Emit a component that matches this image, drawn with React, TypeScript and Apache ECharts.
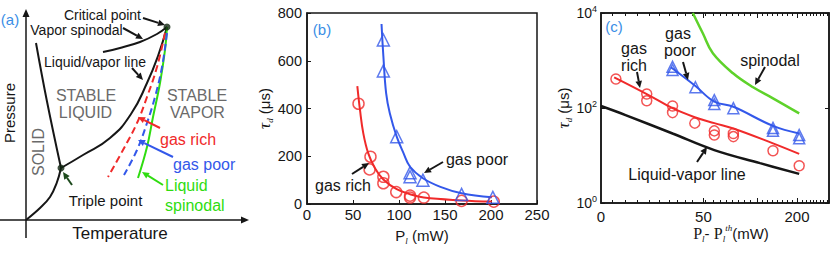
import React, { useEffect, useRef } from 'react';
import * as echarts from 'echarts';

// ---------- Panel (a): schematic phase diagram (temperature, pressure; arbitrary units) ----------
const solidLiquidT = [10, 20.7, 35];
const solidLiquidP = [177, 120, 52];
const solidVaporT = [0, 14, 24, 30.7, 35];
const solidVaporP = [0, 12, 23, 37, 52];
const liquidVaporT = [35, 57, 84, 105, 121, 132, 141];
const liquidVaporP = [52, 65, 82, 106, 137, 164, 193];
const vaporSpinodalT = [77, 94, 114, 131, 141];
const vaporSpinodalP = [168, 172, 178, 186, 193];
const liquidSpinodalT = [141, 139, 134, 127, 121, 112];
const liquidSpinodalP = [193, 170, 137, 103, 73, 42];
const gasRichLineT = [139, 131, 121, 111, 97, 82];
const gasRichLineP = [187, 153, 123, 97, 70, 43];
const gasPoorLineT = [141, 136, 129, 121, 111, 98];
const gasPoorLineP = [187, 153, 123, 97, 70, 45];
const specialPointT = [141, 35]; // critical point, triple point
const specialPointP = [193, 52];

// ---------- Panel (b): tau_d vs P_l ----------
const bRichX = [56, 69, 68, 83, 83, 97, 112, 112, 127, 168, 203];
const bRichY = [420, 198, 145, 114, 87, 50, 35, 27, 27, 13, 10];
const bPoorX = [83, 83, 97.5, 112, 112, 126, 168, 202];
const bPoorY = [687, 557, 282, 131, 114, 100, 40, 28];
const bRichFitX = [54.7, 57.6, 61.2, 66.6, 73.9, 83, 97.5, 112, 127, 168, 201];
const bRichFitY = [494, 394, 296, 212, 150, 103, 62, 41, 27, 15, 10];
const bPoorFitX = [81, 83, 86, 90, 97.5, 105, 112, 126, 145, 168, 201];
const bPoorFitY = [754, 620, 464, 380, 282, 212, 156, 108, 72, 45, 28];
const bXTicks = [0, 50, 100, 150, 200, 250];
const bYTicks = [0, 200, 400, 600, 800];

// ---------- Panel (c): tau_d vs P_l - P_l^th ----------
const cRichX = [4, 15, 15, 28, 28, 43, 60, 60, 81, 81, 144, 206];
const cRichY = [408, 197, 142, 110, 80, 48, 33, 27, 29, 25, 12.6, 6.1];
const cPoorX = [28, 28, 43.5, 60, 60, 81, 144, 144, 206, 206];
const cPoorY = [740, 631, 273, 147, 121, 99, 38, 33, 27, 23];
const cRichFitX = [3.5, 15, 28, 43, 60, 81, 144, 206];
const cRichFitY = [443, 197, 99, 64, 48, 37, 18, 10.8];
const cPoorFitX = [27, 43.5, 60, 81, 144, 206];
const cPoorFitY = [719, 290, 136, 106, 42, 29];
const cLiqVapX = [0, 7, 28, 60, 120, 206];
const cLiqVapY = [110, 71, 29, 13, 6.9, 4.1];
const cSpinX = [41.5, 49.5, 58.6, 80.6, 108.6, 144, 206];
const cSpinY = [10000, 3740, 1418, 538, 273, 160, 77];
const cXLabels = [0, 50, 200];
const cXMajorTicks = [50, 115, 200];
const cXMinorTicks = [3, 7, 11, 16, 21, 26, 31, 36, 41, 52, 59, 66, 73, 80, 87, 95, 104, 123, 132, 142, 152, 163, 175, 187, 214, 226, 238, 248, 260, 272, 284, 297];
const cYTickExponents = [0, 2, 4];

const FONT = '"Liberation Sans", Arial, sans-serif';
const SERIF = '"Liberation Serif", "Times New Roman", serif';
const RED = '#f02a2a';
const BLUE = '#3358ea';
const GREEN = '#2fdc10';
const CGREEN = '#5ed22a';
const PANEL_BLUE = '#3a8ee6';
const INK = '#161616';

const X_OFFSET = 20;
const tx = (x: number) => Math.log10(x + X_OFFSET);
const ty = (y: number) => Math.log10(y);
const U0 = tx(0);
const UMAX = U0 + 228 / 188.2;

const zip = (xs: number[], ys: number[]) => xs.map((x, i) => [x, ys[i]]);

function arrow(x1: number, y1: number, x2: number, y2: number, color: string) {
  const a = Math.atan2(y2 - y1, x2 - x1);
  const L = 7, W = 3.3;
  const bx = x2 - L * Math.cos(a), by = y2 - L * Math.sin(a);
  const px = -Math.sin(a), py = Math.cos(a);
  return [
    { type: 'line', z: 100, shape: { x1, y1, x2: bx, y2: by }, style: { stroke: color, lineWidth: 2 } },
    { type: 'polygon', z: 100, shape: { points: [[x2, y2], [bx + W * px, by + W * py], [bx - W * px, by - W * py]] }, style: { fill: color } },
  ];
}

function label(text: string, x: number, y: number, color = INK, size = 14, align = 'center', rotation = 0) {
  return {
    type: 'text', z: 100, x, y, rotation,
    style: { text, fill: color, font: `${size}px ${FONT}`, align, verticalAlign: 'middle' },
  };
}

const nameRich = {
  a: { fontSize: 15, fontFamily: FONT, color: INK, lineHeight: 20, verticalAlign: 'middle' },
  p: { fontSize: 16, fontFamily: SERIF, color: INK, lineHeight: 20, verticalAlign: 'middle' },
  t: { fontSize: 17, fontFamily: SERIF, fontStyle: 'italic', color: INK, lineHeight: 20, verticalAlign: 'middle' },
  s: { fontSize: 9, fontFamily: SERIF, fontStyle: 'italic', color: INK, lineHeight: 9, verticalAlign: 'bottom' },
  u: { fontSize: 9, fontFamily: SERIF, fontStyle: 'italic', color: INK, lineHeight: 9, verticalAlign: 'top' },
};

const axisLine = { show: true, lineStyle: { color: INK, width: 1.5 } };

export default function App() {
  const ref = useRef<HTMLDivElement>(null);
  useEffect(() => {
    if (!ref.current) return;
    const chart = echarts.init(ref.current, undefined, { renderer: 'svg' });

    const line = (xi: number, data: number[][], color: string, extra: any = {}) => ({
      type: 'line', xAxisIndex: xi, yAxisIndex: xi === 0 ? 0 : xi === 1 ? 1 : 2,
      data, smooth: extra.smooth ?? 0.4, symbol: 'none', showSymbol: false,
      lineStyle: { color, width: 2, ...(extra.lineStyle || {}) }, z: 3,
    });
    const scatter = (xi: number, data: number[][], color: string, symbol: string, size: number) => ({
      type: 'scatter', xAxisIndex: xi, yAxisIndex: xi === 1 ? 1 : 2, data, symbol, symbolSize: size,
      itemStyle: { color: 'rgba(0,0,0,0)', borderColor: color, borderWidth: 1.5 }, z: 4,
    });

    const graphic: any[] = [
      // panel (a) axes
      { type: 'line', z: 100, shape: { x1: 0, y1: 220, x2: 243, y2: 220 }, style: { stroke: INK, lineWidth: 1.5 } },
      { type: 'polygon', z: 100, shape: { points: [[249, 220], [241, 216.5], [241, 223.5]] }, style: { fill: INK } },
      { type: 'line', z: 100, shape: { x1: 26, y1: 238, x2: 26, y2: 15 }, style: { stroke: INK, lineWidth: 1.5 } },
      { type: 'polygon', z: 100, shape: { points: [[26, 9], [22.5, 17], [29.5, 17]] }, style: { fill: INK } },
      label('(a)', 10, 19, PANEL_BLUE, 15),
      label('Critical point', 102.5, 15),
      label('Vapor spinodal', 76.5, 30),
      label('Liquid/vapor line', 95, 62),
      label('STABLE', 86, 95, '#6a6a6a', 16),
      label('LIQUID', 85.5, 112, '#6a6a6a', 16),
      label('STABLE', 197, 95, '#6a6a6a', 16),
      label('VAPOR', 197.5, 112, '#6a6a6a', 16),
      label('SOLID', 38, 152, '#6a6a6a', 16, 'center', Math.PI / 2),
      label('Pressure', 9, 113, INK, 15, 'center', Math.PI / 2),
      label('Temperature', 120, 233, INK, 17),
      label('Triple point', 105.5, 200, INK, 15),
      label('gas rich', 160, 139, RED, 16, 'left'),
      label('gas poor', 173, 164, BLUE, 16, 'left'),
      label('Liquid', 165, 185, GREEN, 16, 'left'),
      label('spinodal', 165, 205, GREEN, 16, 'left'),
      ...arrow(143, 18, 165, 25, INK),
      ...arrow(123, 28, 143, 39, INK),
      ...arrow(132, 68, 143, 80, INK),
      ...arrow(160, 128, 138, 117, RED),
      ...arrow(173, 157, 138, 140, BLUE),
      ...arrow(163, 185, 142, 172, GREEN),
      ...arrow(72, 185, 63, 172, '#1d4a1d'),
      // panel (b)
      label('(b)', 322, 29, PANEL_BLUE, 15),
      label('gas poor', 477, 159, INK, 16),
      label('gas rich', 343, 185, INK, 16),
      ...arrow(443, 162, 424, 173, INK),
      ...arrow(352, 174, 369, 163, INK),
      // panel (c)
      label('(c)', 614, 26, PANEL_BLUE, 15),
      label('gas', 634, 48, INK, 16),
      label('rich', 634, 65, INK, 16),
      label('gas', 678, 33, INK, 16),
      label('poor', 680, 50, INK, 16),
      label('spinodal', 770, 60, INK, 16),
      label('Liquid-vapor line', 687, 174, INK, 16),
      ...arrow(637, 72, 640, 88, INK),
      ...arrow(683, 62, 688, 80, INK),
      ...arrow(765, 67, 755, 85, INK),
      ...arrow(697, 162, 707, 147, INK),
    ];

    const cMinorAxis = (position: string) => ({
      type: 'value', gridIndex: 2, min: U0, max: UMAX, position,
      axisLine: { show: false }, axisLabel: { show: false }, splitLine: { show: false },
      axisTick: { show: true, inside: true, length: 3, customValues: cXMinorTicks.map(tx), lineStyle: { color: INK, width: 1 } },
    });

    const option: any = {
      animation: false,
      textStyle: { fontFamily: FONT },
      grid: [
        { left: 26, top: 10, width: 222, height: 210, show: false },
        { left: 307, top: 13, width: 230, height: 191, show: true, borderColor: INK, borderWidth: 1.5, backgroundColor: 'rgba(0,0,0,0)' },
        { left: 601, top: 13, width: 228, height: 190, show: true, borderColor: INK, borderWidth: 1.5, backgroundColor: 'rgba(0,0,0,0)' },
      ],
      xAxis: [
        { type: 'value', gridIndex: 0, min: 0, max: 222, show: false },
        {
          type: 'value', gridIndex: 1, min: bXTicks[0], max: bXTicks[bXTicks.length - 1], interval: 50, position: 'bottom',
          axisLine, axisTick: { show: true, inside: true, length: 4, lineStyle: { color: INK } },
          axisLabel: { color: INK, fontSize: 15, margin: 3, fontFamily: FONT },
          splitLine: { show: false },
          name: '{a|P}{s|l}{a| (mW)}', nameLocation: 'middle', nameGap: 21, nameMoveOverlap: false,
          nameTextStyle: { rich: nameRich },
        },
        {
          type: 'value', gridIndex: 2, min: U0, max: UMAX, position: 'bottom',
          axisLine, axisTick: { show: true, inside: true, length: 5, customValues: cXMajorTicks.map(tx), lineStyle: { color: INK } },
          axisLabel: {
            color: INK, fontSize: 15, margin: 6, fontFamily: FONT, customValues: cXLabels.map(tx),
            formatter: (v: number) => String(Math.round(Math.pow(10, v) - X_OFFSET)),
          },
          splitLine: { show: false },
          name: '{p|P}{s|l}{a|- }{p|P}{s|l}{u|th}{a|(mW)}', nameLocation: 'middle', nameGap: 20, nameMoveOverlap: false,
          nameTextStyle: { rich: nameRich, padding: [0, 0, 0, 32] },
        },
        cMinorAxis('bottom'),
        {
          type: 'value', gridIndex: 2, min: U0, max: UMAX, position: 'top',
          axisLine, axisLabel: { show: false }, splitLine: { show: false },
          axisTick: { show: true, inside: true, length: 5, customValues: cXMajorTicks.map(tx), lineStyle: { color: INK } },
        },
        cMinorAxis('top'),
      ],
      yAxis: [
        { type: 'value', gridIndex: 0, min: 0, max: 210, show: false },
        {
          type: 'value', gridIndex: 1, min: bYTicks[0], max: bYTicks[bYTicks.length - 1], interval: 200,
          axisLine, axisTick: { show: true, inside: true, length: 4, lineStyle: { color: INK } },
          axisLabel: { color: INK, fontSize: 14.5, margin: 5, fontFamily: FONT },
          splitLine: { show: false },
          name: '{t|τ}{s|d}{a| (μs)}', nameLocation: 'middle', nameRotate: 90, nameGap: 33, nameMoveOverlap: false,
          nameTextStyle: { rich: nameRich },
        },
        {
          type: 'value', gridIndex: 2, min: cYTickExponents[0], max: cYTickExponents[cYTickExponents.length - 1], interval: 2, position: 'left',
          axisLine, axisTick: { show: true, inside: true, length: 4, lineStyle: { color: INK } },
          axisLabel: {
            margin: 4, formatter: (v: number) => `{b|10}{e|${Math.round(v)}}`,
            rich: {
              b: { fontSize: 14, fontFamily: FONT, color: INK, lineHeight: 18, verticalAlign: 'middle' },
              e: { fontSize: 9, fontFamily: FONT, color: INK, lineHeight: 9, verticalAlign: 'top' },
            },
          },
          splitLine: { show: false },
          name: '{t|τ}{s|d}{a| (μs)}', nameLocation: 'middle', nameRotate: 90, nameGap: 28, nameMoveOverlap: false,
          nameTextStyle: { rich: nameRich },
        },
        {
          type: 'value', gridIndex: 2, min: 0, max: 4, interval: 2, position: 'right',
          axisLine, axisTick: { show: true, inside: true, length: 4, lineStyle: { color: INK } },
          axisLabel: { show: false }, splitLine: { show: false },
        },
      ],
      series: [
        // panel (a)
        line(0, zip(solidLiquidT, solidLiquidP), INK),
        line(0, zip(solidVaporT, solidVaporP), INK),
        line(0, zip(liquidVaporT, liquidVaporP), INK, { smooth: 0.5 }),
        line(0, zip(vaporSpinodalT, vaporSpinodalP), INK),
        line(0, zip(liquidSpinodalT, liquidSpinodalP), GREEN),
        line(0, zip(gasRichLineT, gasRichLineP), RED, { lineStyle: { type: [7, 4] } }),
        line(0, zip(gasPoorLineT, gasPoorLineP), BLUE, { lineStyle: { type: [7, 4] } }),
        { type: 'scatter', xAxisIndex: 0, yAxisIndex: 0, data: zip(specialPointT, specialPointP), symbolSize: 7, itemStyle: { color: '#102510' }, z: 5 },
        // panel (b)
        line(1, zip(bRichFitX, bRichFitY), RED),
        line(1, zip(bPoorFitX, bPoorFitY), BLUE),
        scatter(1, zip(bRichX, bRichY), RED, 'circle', 11),
        scatter(1, zip(bPoorX, bPoorY), BLUE, 'triangle', 12),
        // panel (c)
        line(2, zip(cLiqVapX.map(tx), cLiqVapY.map(ty)), INK, { lineStyle: { width: 2.5 } }),
        line(2, zip(cSpinX.map(tx), cSpinY.map(ty)), CGREEN, { lineStyle: { width: 2.5 } }),
        line(2, zip(cRichFitX.map(tx), cRichFitY.map(ty)), RED),
        line(2, zip(cPoorFitX.map(tx), cPoorFitY.map(ty)), BLUE),
        scatter(2, zip(cRichX.map(tx), cRichY.map(ty)), RED, 'circle', 10),
        scatter(2, zip(cPoorX.map(tx), cPoorY.map(ty)), BLUE, 'triangle', 11),
      ],
      graphic,
    };
    chart.setOption(option);
    return () => chart.dispose();
  }, []);
  return <div ref={ref} style={{ position: 'absolute', left: 0, top: 0, width: 831, height: 253, background: '#fff' }} />;
}
